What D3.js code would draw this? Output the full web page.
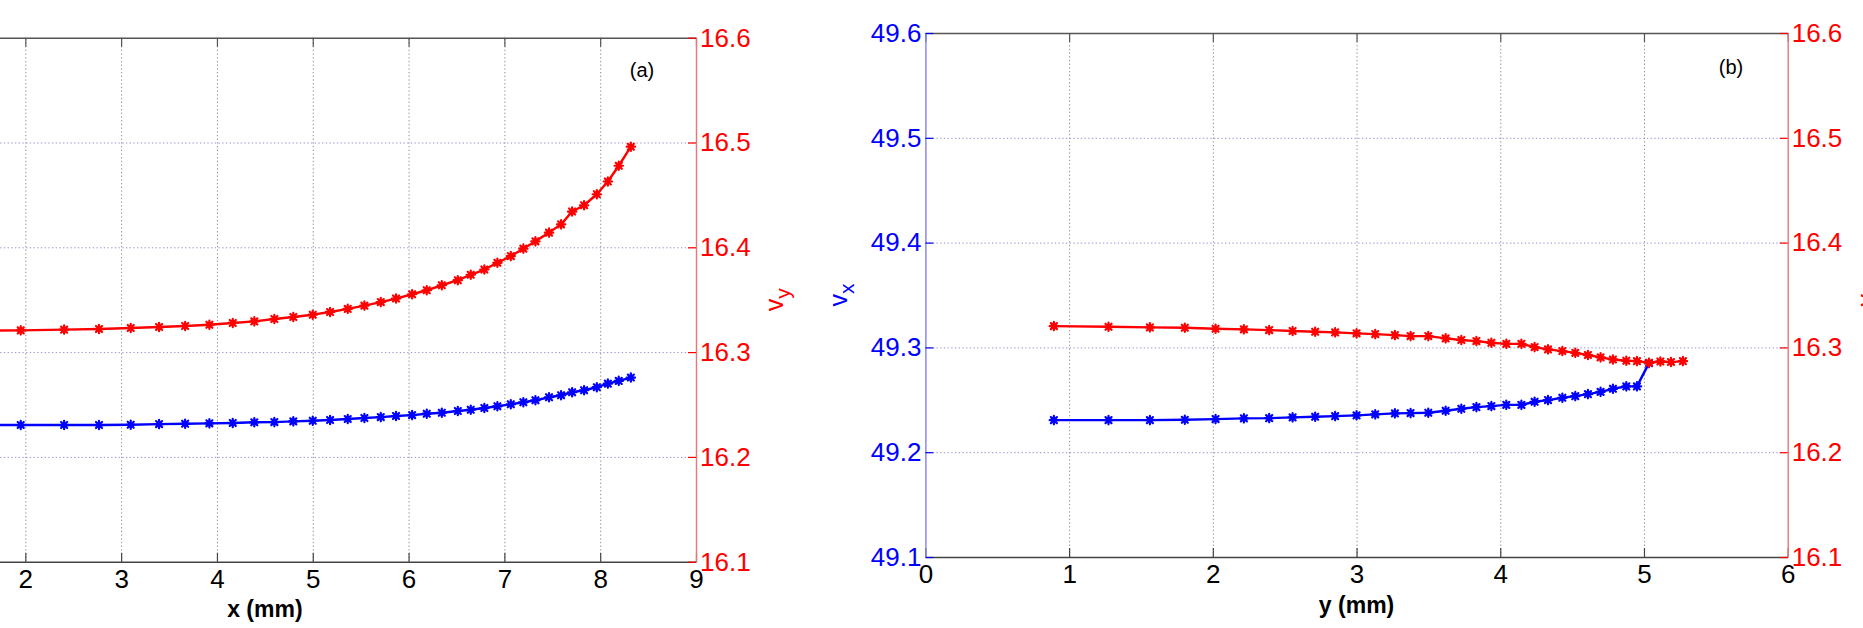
<!DOCTYPE html>
<html><head><meta charset="utf-8">
<script src="https://cdn.jsdelivr.net/npm/d3@7"></script>
<style>
html,body{margin:0;padding:0;background:#fff;overflow:hidden}
svg{display:block;font-family:"Liberation Sans",Arial,Helvetica,sans-serif}
</style></head><body>
<svg id="fig" width="1863" height="628"></svg>
<script>
// ---- tick values ----
const xTicksA = [0, 1, 2, 3, 4, 5, 6, 7, 8, 9];
const xTicksB = [0, 1, 2, 3, 4, 5, 6];
const vxTicks = [49.1, 49.2, 49.3, 49.4, 49.5, 49.6];
const vyTicks = [16.1, 16.2, 16.3, 16.4, 16.5, 16.6];

// ---- panel (a): velocity components along x ----
const posA = [1.40, 1.952, 2.405, 2.769, 3.100, 3.396, 3.668, 3.921, 4.165, 4.390, 4.599, 4.797,
  5.000, 5.181, 5.365, 5.539, 5.710, 5.869, 6.037, 6.190, 6.347, 6.514, 6.649, 6.791, 6.927,
  7.067, 7.198, 7.324, 7.466, 7.592, 7.707, 7.832, 7.965, 8.080, 8.194, 8.320];
const vxA = [49.2304, 49.2304, 49.2304, 49.2304, 49.2307, 49.2313, 49.2316, 49.2320, 49.2323,
  49.2330, 49.2332, 49.2339, 49.2345, 49.2352, 49.2361, 49.2371, 49.2380, 49.2390, 49.2399,
  49.2412, 49.2421, 49.2438, 49.2450, 49.2466, 49.2483, 49.2502, 49.2521, 49.2540, 49.2569,
  49.2588, 49.2617, 49.2636, 49.2665, 49.2699, 49.2725, 49.2757];
const vyA = [16.3205, 16.3207, 16.3214, 16.3220, 16.3230, 16.3239, 16.3249, 16.3261, 16.3278,
  16.3293, 16.3316, 16.3335, 16.3357, 16.3383, 16.3412, 16.3443, 16.3477, 16.3511, 16.3552,
  16.3590, 16.3638, 16.3686, 16.3738, 16.3788, 16.3852, 16.3916, 16.3987, 16.4057, 16.4140,
  16.4219, 16.4341, 16.4401, 16.4506, 16.4628, 16.4778, 16.4960];

// ---- panel (b): velocity components along y ----
const posBy = [0.894, 1.274, 1.562, 1.805, 2.019, 2.216, 2.392, 2.555, 2.712, 2.851, 3.000,
  3.130, 3.267, 3.376, 3.499, 3.620, 3.729, 3.834, 3.938, 4.042, 4.147, 4.239, 4.332, 4.432,
  4.522, 4.610, 4.698, 4.784, 4.877, 4.951, 5.035, 5.114, 5.188, 5.271];
const vyB = [16.3203, 16.3197, 16.3191, 16.3187, 16.3178, 16.3172, 16.3165, 16.3156, 16.3149,
  16.3143, 16.3134, 16.3127, 16.3117, 16.3108, 16.3108, 16.3086, 16.3070, 16.3060, 16.3044,
  16.3034, 16.3034, 16.3003, 16.2981, 16.2965, 16.2948, 16.2927, 16.2905, 16.2885, 16.2872,
  16.2869, 16.2853, 16.2866, 16.2860, 16.2869];
const posBx = [0.894, 1.274, 1.562, 1.805, 2.019, 2.216, 2.392, 2.555, 2.712, 2.851, 3.000,
  3.130, 3.267, 3.376, 3.499, 3.620, 3.729, 3.834, 3.938, 4.042, 4.147, 4.239, 4.332, 4.432,
  4.522, 4.610, 4.698, 4.784, 4.877, 4.951, 5.035];
const vxB = [49.2306, 49.2306, 49.2306, 49.2309, 49.2316, 49.2323, 49.2325, 49.2332, 49.2338,
  49.2344, 49.2351, 49.2361, 49.2370, 49.2373, 49.2376, 49.2395, 49.2414, 49.2430, 49.2440,
  49.2452, 49.2452, 49.2481, 49.2497, 49.2519, 49.2535, 49.2554, 49.2576, 49.2605, 49.2628,
  49.2628, 49.2850];

const svg = d3.select('#fig');
const FS = 26;
const FONT = '"Liberation Sans",Arial,sans-serif';
const BLUE = '#0000ff', RED = '#ff0000';

// asterisk marker
const star = r => {
  const a = r * 0.72;
  return `M${-r},0L${r},0M0,${-r}L0,${r}M${-a},${-a}L${a},${a}M${-a},${a}L${a},${-a}`;
};

function drawPanel(c) {
  const x = d3.scaleLinear().domain(c.xDomain).range([c.left, c.right]);
  const yL = d3.scaleLinear().domain([49.1, 49.6]).range([c.bottom, c.top]);
  const yR = d3.scaleLinear().domain([16.1, 16.6]).range([c.bottom, c.top]);
  const g = svg.append('g');
  const h = c.bottom - c.top, w = c.right - c.left;
  const onPage = px => px >= 8 && px <= 1855;

  // grid: vertical (gray dotted)
  g.append('g').attr('transform', `translate(0,${c.bottom})`)
    .call(d3.axisBottom(x).tickValues(c.xTicks.slice(1, -1)).tickSize(-h).tickFormat(''))
    .call(s => {
      s.select('.domain').remove();
      s.selectAll('line').attr('stroke', '#8c8c8c').attr('stroke-width', 1)
        .attr('stroke-dasharray', '1.3,2.4');
    });
  // grid: horizontal (bluish dotted)
  g.append('g').attr('transform', `translate(${c.left},0)`)
    .call(d3.axisLeft(yL).tickValues(vxTicks.slice(1, -1)).tickSize(-w).tickFormat(''))
    .call(s => {
      s.select('.domain').remove();
      s.selectAll('line').attr('stroke', '#8f8fcf').attr('stroke-width', 1)
        .attr('stroke-dasharray', '1.3,2.4');
    });

  // series
  const series = (xs, ys, scale, color) => {
    const pts = xs.map((v, i) => [x(v), scale(ys[i])]);
    g.append('path').attr('d', d3.line()(pts)).attr('fill', 'none')
      .attr('stroke', color).attr('stroke-width', 2.4).attr('stroke-linejoin', 'round');
    g.append('g').selectAll('path').data(pts).join('path')
      .attr('transform', d => `translate(${d[0]},${d[1]})`)
      .attr('d', star(4.2)).attr('fill', 'none').attr('stroke', color)
      .attr('stroke-width', 2.2).attr('stroke-linecap', 'round');
  };
  series(c.posX, c.vx, yL, BLUE);
  series(c.posY, c.vy, yR, RED);

  // bottom axis
  g.append('g').attr('transform', `translate(0,${c.bottom})`)
    .call(d3.axisBottom(x).tickValues(c.xTicks).tickSizeInner(-9).tickSizeOuter(0)
      .tickPadding(8).tickFormat(d3.format('d')))
    .call(s => {
      s.select('.domain').attr('stroke', '#444').attr('stroke-width', 1.4);
      s.selectAll('line').attr('stroke', '#444').attr('stroke-width', 1.2);
      s.selectAll('text').attr('fill', '#000').attr('font-size', FS).attr('font-family', FONT);
      s.selectAll('.tick').filter(d => !onPage(x(d))).select('text').remove();
    });
  // top axis (ticks only)
  g.append('g').attr('transform', `translate(0,${c.top})`)
    .call(d3.axisTop(x).tickValues(c.xTicks).tickSizeInner(-9).tickSizeOuter(0).tickFormat(''))
    .call(s => {
      s.select('.domain').attr('stroke', '#555').attr('stroke-width', 1.4);
      s.selectAll('line').attr('stroke', '#555').attr('stroke-width', 1.2);
    });
  // left axis (v_x)
  g.append('g').attr('transform', `translate(${c.left},0)`)
    .call(d3.axisLeft(yL).tickValues(vxTicks).tickSizeInner(-8).tickSizeOuter(0)
      .tickPadding(4).tickFormat(d3.format('.1f')))
    .call(s => {
      s.select('.domain').attr('stroke', '#8080ee').attr('stroke-width', 1.4);
      s.selectAll('line').attr('stroke', BLUE).attr('stroke-width', 1.2);
      s.selectAll('text').attr('fill', BLUE).attr('font-size', FS).attr('font-family', FONT);
      if (!onPage(c.left)) s.selectAll('text').remove();
    });
  // right axis (v_y)
  g.append('g').attr('transform', `translate(${c.right},0)`)
    .call(d3.axisRight(yR).tickValues(vyTicks).tickSizeInner(-8).tickSizeOuter(0)
      .tickPadding(4).tickFormat(d3.format('.1f')))
    .call(s => {
      s.select('.domain').attr('stroke', '#e87878').attr('stroke-width', 1.4);
      s.selectAll('line').attr('stroke', RED).attr('stroke-width', 1.2);
      s.selectAll('text').attr('fill', RED).attr('font-size', FS).attr('font-family', FONT);
    });

  // axis title
  g.append('text').attr('x', (c.left + c.right) / 2).attr('y', c.titleY)
    .attr('text-anchor', 'middle').attr('font-weight', 'bold').attr('font-size', 23)
    .text(c.xTitle);

  // panel tag
  g.append('text').attr('x', c.tagX).attr('y', c.tagY).attr('text-anchor', 'middle')
    .attr('font-size', 20).text(c.tag);

  // rotated y labels with subscripts
  const ylab = (bx, cy, sub, color) => {
    const t = g.append('text').attr('transform', `translate(${bx},${cy}) rotate(-90)`)
      .attr('text-anchor', 'middle').attr('font-size', 25).attr('fill', color);
    t.append('tspan').text('v');
    t.append('tspan').attr('dy', '0.32em').attr('font-size', 21).text(sub);
  };
  if (onPage(c.left - 80)) ylab(c.left - 78, c.top + 262, 'x', BLUE);
  ylab(c.right + 87, c.top + 262, 'y', RED);
}

drawPanel({
  left: -166.3, right: 696, top: 37.7, bottom: 561.7,
  xDomain: [0, 9], xTicks: xTicksA, xTitle: 'x (mm)', titleY: 617,
  tag: '(a)', tagX: 642, tagY: 77,
  posX: posA, vx: vxA, posY: posA, vy: vyA
});
drawPanel({
  left: 925.4, right: 1787.7, top: 33, bottom: 557,
  xDomain: [0, 6], xTicks: xTicksB, xTitle: 'y (mm)', titleY: 613,
  tag: '(b)', tagX: 1731, tagY: 74,
  posX: posBx, vx: vxB, posY: posBy, vy: vyB
});
</script>
</body></html>
